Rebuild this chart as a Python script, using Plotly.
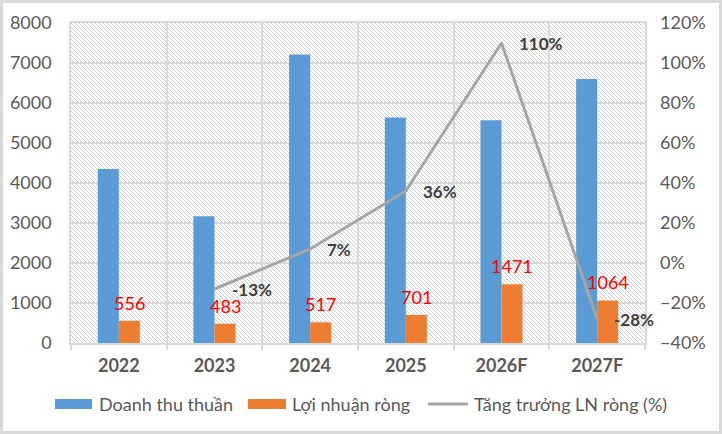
import base64
import plotly.graph_objects as go

years = ["2022", "2023", "2024", "2025", "2026F", "2027F"]
revenue = [4350, 3170, 7210, 5640, 5570, 6600]
profit = [556, 483, 517, 701, 1471, 1064]
growth = [None, -0.13, 0.07, 0.36, 1.10, -0.28]
growth_labels = [None, "-13%", "7%", "36%", "110%", "-28%"]
series_names = ["Doanh thu thuần", "Lợi nhuận ròng", "Tăng trưởng LN ròng (%)"]
series_colors = ["#5b9bd5", "#ed7d31", "#a5a5a5"]

FONT = "Lato"
TXT = "#595959"
GRID = "#d9d9d9"

L, R, T, B = 71, 77, 23, 91
W, H = 722, 434
PW, PH = W - L - R, H - T - B


def px_x(p):
    return (p - L) / PW


def px_y(p):
    return (H - B - p) / PH


xi = list(range(len(years)))

fig = go.Figure()
fig.add_trace(go.Bar(x=xi, y=revenue, name=series_names[0],
                     marker=dict(color=series_colors[0], line=dict(width=0))))
fig.add_trace(go.Bar(x=xi, y=profit, name=series_names[1],
                     marker=dict(color=series_colors[1], line=dict(width=0))))
fig.add_trace(go.Scatter(x=xi, y=growth, name=series_names[2],
                         mode="lines", yaxis="y2",
                         line=dict(color=series_colors[2], width=3)))

annotations = []
for i, p in zip(xi, profit):
    annotations.append(dict(x=i, y=p, xref="x", yref="y", text=str(p),
                            showarrow=False, xshift=10.5, yshift=5,
                            yanchor="bottom",
                            font=dict(family=FONT, size=18, color="#ff0000")))
for i, g, lab in zip(xi, growth, growth_labels):
    if g is None:
        continue
    annotations.append(dict(x=i, y=g, xref="x", yref="y2", text="<b>%s</b>" % lab,
                            showarrow=False, xanchor="left", yanchor="middle",
                            xshift=15,
                            font=dict(family=FONT, size=17, color="#404040")))

# custom legend (wide symbols, one row)
shapes = []
leg_y = 404
sym = [(55, 92), (248, 286), (428, 468)]
txt_x = [97, 290, 472]
for k in range(3):
    x0, x1 = sym[k]
    if k < 2:
        shapes.append(dict(type="rect", xref="paper", yref="paper",
                           x0=px_x(x0), x1=px_x(x1),
                           y0=px_y(leg_y + 5), y1=px_y(leg_y - 5),
                           fillcolor=series_colors[k], line=dict(width=0)))
    else:
        shapes.append(dict(type="line", xref="paper", yref="paper",
                           x0=px_x(x0), x1=px_x(x1),
                           y0=px_y(leg_y), y1=px_y(leg_y),
                           line=dict(color=series_colors[k], width=3)))
    annotations.append(dict(xref="paper", yref="paper", x=px_x(txt_x[k]),
                            y=px_y(leg_y), xanchor="left", yanchor="middle",
                            text=series_names[k], showarrow=False,
                            font=dict(family=FONT, size=18, color=TXT)))

shapes.append(dict(type="rect", xref="paper", yref="paper",
                   x0=px_x(1.5), x1=px_x(W - 1.5),
                   y0=px_y(H - 1.5), y1=px_y(1.5),
                   line=dict(color="#d9d9d9", width=3), layer="below"))

svg = ('<svg xmlns="http://www.w3.org/2000/svg" width="%d" height="%d">'
       '<defs><pattern id="p" width="4" height="4" patternUnits="userSpaceOnUse">'
       '<path d="M-1,-1 L5,5 M-1,3 L1,5 M3,-1 L5,1" stroke="#d2d2d2" stroke-width="1"/>'
       '</pattern></defs><rect width="100%%" height="100%%" fill="white"/>'
       '<rect width="100%%" height="100%%" fill="url(#p)"/></svg>') % (PW, PH)
src = "data:image/svg+xml;base64," + base64.b64encode(svg.encode()).decode()

fig.update_layout(
    width=W, height=H,
    margin=dict(l=L, r=R, t=T, b=B, autoexpand=False),
    paper_bgcolor="white",
    plot_bgcolor="rgba(0,0,0,0)",
    showlegend=False,
    barmode="group", bargap=0.56, bargroupgap=0,
    font=dict(family=FONT, size=18, color=TXT),
    images=[dict(source=src, xref="paper", yref="paper", x=0, y=1,
                 sizex=1, sizey=1, xanchor="left", yanchor="top",
                 sizing="stretch", layer="below")],
    xaxis=dict(range=[-0.5, len(years) - 0.5], tickmode="array", tickvals=xi,
               ticktext=["<b>%s</b>" % y for y in years], showgrid=False,
               zeroline=False, showline=True, linecolor=GRID,
               linewidth=1.5, mirror=True, ticks="", ticklabelstandoff=6,
               minor=dict(tick0=0.5, dtick=1, showgrid=True, gridcolor=GRID,
                          gridwidth=1.5, ticks="outside", ticklen=5,
                          tickcolor=GRID, tickwidth=1.5),
               tickfont=dict(family=FONT, size=18, color=TXT)),
    yaxis=dict(range=[0, 8000], dtick=1000, showgrid=True, gridcolor=GRID,
               gridwidth=1.5, showline=True, linecolor=GRID, linewidth=1.5,
               mirror=True, zeroline=False, ticks="", ticklabelstandoff=14,
               tickfont=dict(family=FONT, size=18, color=TXT)),
    yaxis2=dict(range=[-0.4, 1.2], dtick=0.2, tickformat=".0%",
                overlaying="y", side="right", showgrid=False, zeroline=False,
                showline=False, ticks="", ticklabelstandoff=14,
                tickfont=dict(family=FONT, size=18, color=TXT)),
    annotations=annotations,
    shapes=shapes,
)

fig.write_html("out.html")
